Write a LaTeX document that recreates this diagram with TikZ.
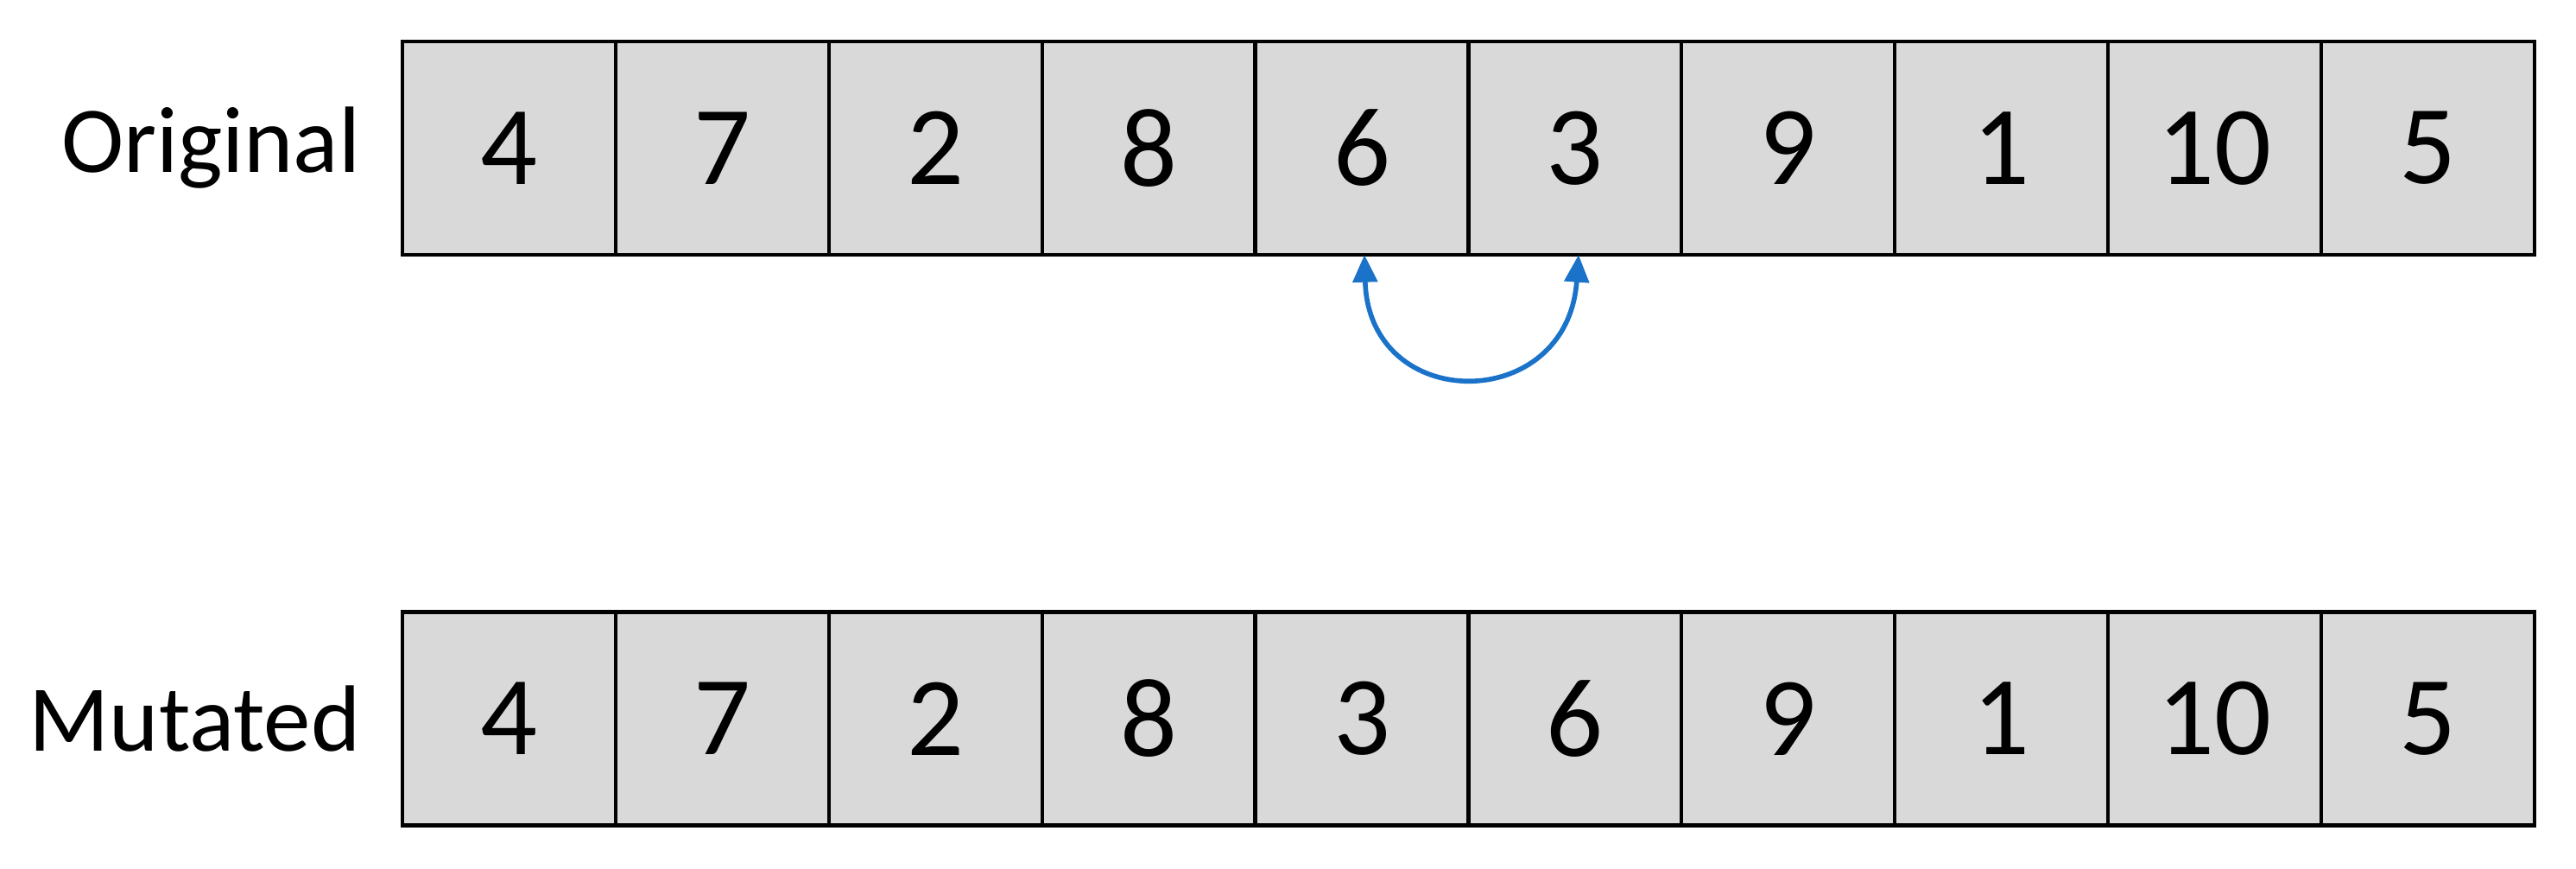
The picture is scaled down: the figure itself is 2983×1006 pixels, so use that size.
\documentclass[tikz,border=0pt]{standalone}
\usepackage{fontspec}
\setmainfont{Carlito}
\usetikzlibrary{arrows.meta}
\definecolor{cellgray}{HTML}{D9D9D9}
\definecolor{arcblue}{HTML}{1A73C8}
\begin{document}
\begin{tikzpicture}[x=0.01cm,y=-0.01cm,
  cell/.style={draw=black,line width=1.2pt,fill=cellgray,minimum width=2.469cm,minimum height=2.47cm,inner sep=0pt,font=\fontsize{37}{40}\selectfont},
  lbl/.style={anchor=east,inner sep=0pt,font=\fontsize{31}{34}\selectfont}]
\useasboundingbox (0,0) rectangle (2983,1006);
\foreach \v [count=\i] in {4,7,2,8,6,3,9,1,10,5}
  \node[cell] (o\i) at ({466+246.9*(\i-0.5)},171.5) {\v};
\foreach \v [count=\i] in {4,7,2,8,3,6,9,1,10,5}
  \node[cell] (m\i) at ({466+246.9*(\i-0.5)},832) {\v};
\node[lbl] (lo) at (418,171.5) {Original};
\node[lbl] (lm) at (418,832) {Mutated};
\coordinate (a) at (1580,295);
\coordinate (b) at (1828,295);
\draw[arcblue,line width=1.6pt,{Triangle[length=9pt,width=8pt]}-{Triangle[length=9pt,width=8pt]}]
  (a) .. controls (1585,480) and (1815,480) .. (b);
\end{tikzpicture}
\end{document}
